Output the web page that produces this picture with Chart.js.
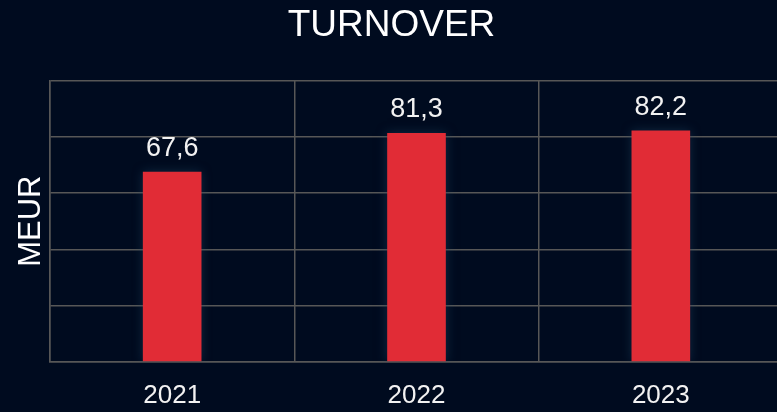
<!DOCTYPE html>
<html>
<head>
<meta charset="utf-8">
<script src="https://cdn.jsdelivr.net/npm/chart.js@4/dist/chart.umd.min.js"></script>
<style>
  html, body { margin: 0; padding: 0; background: #000b1f; overflow: hidden; width: 777px; height: 412px; }
  #wrap { width: 786px; height: 412px; }
</style>
</head>
<body>
<div id="wrap"><canvas id="c" width="786" height="412"></canvas></div>
<script>
const categories = ["2021", "2022", "2023"];
const turnover = [67.6, 81.3, 82.2];
const yTicks = [0, 20, 40, 60, 80, 100];

const FONT = "'Liberation Sans', Arial, sans-serif";

const labelPlugin = {
  id: 'barLabels',
  beforeDatasetsDraw(chart) {
    const ctx = chart.ctx;
    ctx.save();
    ctx.shadowColor = 'rgba(30,70,100,0.55)';
    ctx.shadowBlur = 10;
  },
  afterDatasetsDraw(chart) {
    const ctx = chart.ctx;
    ctx.restore();
    ctx.save();
    ctx.fillStyle = '#f2f2f2';
    ctx.font = "27px " + FONT;
    ctx.textAlign = 'center';
    ctx.textBaseline = 'alphabetic';
    const meta = chart.getDatasetMeta(0);
    meta.data.forEach((bar, i) => {
      const v = chart.data.datasets[0].data[i];
      ctx.fillText(v.toFixed(1).replace('.', ','), bar.x, bar.y - 16);
    });
    ctx.restore();
  }
};

new Chart(document.getElementById('c'), {
  type: 'bar',
  data: {
    labels: categories,
    datasets: [{
      data: turnover,
      backgroundColor: '#e12c36',
      borderWidth: 0,
      barPercentage: 0.3,
      categoryPercentage: 0.8
    }]
  },
  options: {
    responsive: false,
    animation: false,
    devicePixelRatio: 1,
    layout: { padding: { left: 0, right: 3, top: 0, bottom: 0 } },
    plugins: {
      legend: { display: false },
      tooltip: { enabled: false },
      title: {
        display: true,
        text: 'TURNOVER',
        color: '#ffffff',
        font: { size: 37, family: FONT, weight: 'normal' },
        padding: { top: 4, bottom: 32 }
      }
    },
    scales: {
      x: {
        grid: { color: '#575757', lineWidth: 1.5, drawTicks: false, offset: true },
        border: { color: '#575757', width: 1.5 },
        ticks: { color: '#f2f2f2', font: { size: 26, family: FONT }, padding: 18 },
        afterFit(scale) { scale.height = 50; }
      },
      y: {
        min: yTicks[0],
        max: yTicks[yTicks.length - 1],
        afterBuildTicks(scale) { scale.ticks = yTicks.map(v => ({ value: v })); },
        grid: { color: '#575757', lineWidth: 1.5, drawTicks: false },
        border: { color: '#575757', width: 1.5 },
        ticks: { display: false },
        afterFit(scale) { scale.width = 50; },
        title: {
          display: true,
          text: 'MEUR',
          color: '#ffffff',
          font: { size: 31, family: FONT, weight: 'normal' },
          padding: { top: 13, bottom: 0 }
        }
      }
    }
  },
  plugins: [labelPlugin, {
    id: 'bg',
    beforeDraw(chart) {
      const ctx = chart.ctx;
      ctx.save();
      ctx.fillStyle = '#000b1f';
      ctx.fillRect(0, 0, chart.width, chart.height);
      ctx.restore();
    }
  }]
});
</script>
</body>
</html>
